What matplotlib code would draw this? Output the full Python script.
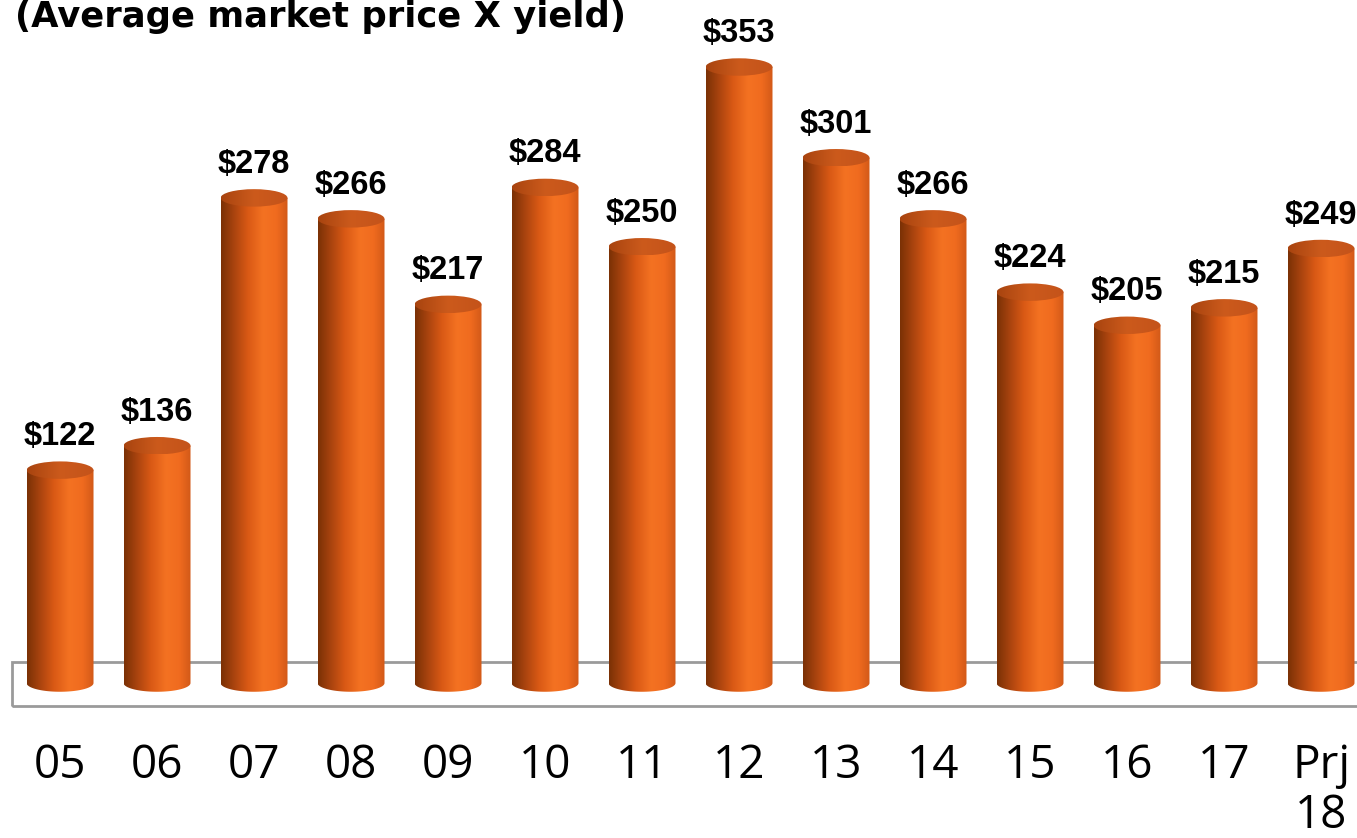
import numpy as np
import matplotlib
matplotlib.use("Agg")
import matplotlib.pyplot as plt
from matplotlib.colors import LinearSegmentedColormap
from matplotlib.patches import Ellipse, Rectangle, PathPatch
from matplotlib.path import Path

# chart data
years = ["05", "06", "07", "08", "09", "10", "11", "12", "13", "14", "15", "16", "17", "Prj\n18"]
values = [122, 136, 278, 266, 217, 284, 250, 353, 301, 266, 224, 205, 215, 249]
value_labels = ["$" + str(v) for v in values]
title = "(Average market price X yield)"

W, H = 1357, 838
fig = plt.figure(figsize=(W / 100, H / 100), dpi=100)
ax = fig.add_axes([0, 0, 1, 1])
ax.set_xlim(-0.619, 13.371)
ax.set_ylim(-88.8, 391.4)
ax.axis("off")

body_cmap = LinearSegmentedColormap.from_list(
    "body", [(0, "#7a3105"), (0.18, "#a6420e"), (0.4, "#d95915"),
             (0.63, "#f47222"), (0.83, "#f06b1f"), (1, "#d25918")])
top_cmap = LinearSegmentedColormap.from_list(
    "top", [(0, "#a8440f"), (0.5, "#cc5a1c"), (1, "#c4531a")])

bw = 0.69   # bar width in data units
eh = 5.0    # half height of ellipse in data units
grad = np.linspace(0, 1, 256).reshape(1, -1)

# floor box
ax.add_patch(Rectangle((-0.495, -13.2), 15, 25.2, fill=False,
                       edgecolor="#9a9a9a", lw=2, zorder=1))

for i, v in enumerate(values):
    x0, x1 = i - bw / 2, i + bw / 2
    t = np.linspace(np.pi, 2 * np.pi, 60)
    bx = i + bw / 2 * np.cos(t)
    by = eh * np.sin(t)
    verts = list(zip(bx, by)) + [(x1, v), (x0, v), (x0, 0)]
    body = PathPatch(Path(verts), facecolor="none", edgecolor="none")
    ax.add_patch(body)
    im = ax.imshow(grad, cmap=body_cmap, extent=[x0, x1, -eh, v],
                   aspect="auto", interpolation="bicubic", zorder=2)
    im.set_clip_path(body)

    top = Ellipse((i, v), bw, 2 * eh, facecolor="none", edgecolor="none")
    ax.add_patch(top)
    im2 = ax.imshow(grad, cmap=top_cmap, extent=[x0, x1, v - eh, v + eh],
                    aspect="auto", interpolation="bicubic", zorder=3)
    im2.set_clip_path(top)

    ax.annotate(value_labels[i], (i, v), xytext=(0, 18), textcoords="offset points",
                ha="center", va="baseline", fontsize=23.5, fontweight="bold",
                family=["Liberation Sans", "DejaVu Sans"], zorder=4)

    ax.text(i, -34.4, years[i], ha="center", va="top", fontsize=33,
            family=["Open Sans", "DejaVu Sans"], linespacing=1.1)

fig.text(15 / W, 1 - 27 / H, title, ha="left", va="baseline", fontsize=25.5,
         fontweight="bold", family=["DejaVu Sans"])

fig.savefig("out.png", dpi=100)
